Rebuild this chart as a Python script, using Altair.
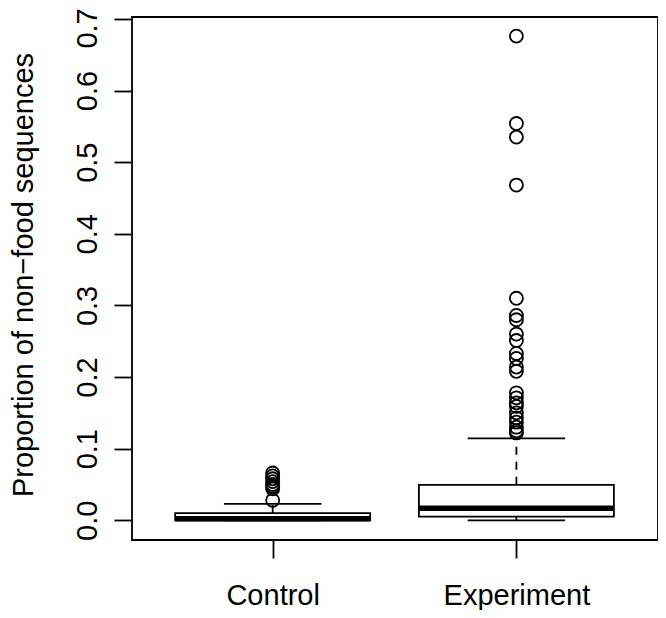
import altair as alt
import pandas as pd

groups = ["Control", "Experiment"]
positions = [1, 2]
whisker_low = [0.0, 0.0]
q1 = [0.0, 0.005]
median = [0.002, 0.017]
q3 = [0.010, 0.0495]
whisker_high = [0.023, 0.1145]

control_outliers = [0.066, 0.062, 0.058, 0.054, 0.050, 0.047, 0.044, 0.028]
experiment_outliers = [0.676, 0.554, 0.535, 0.468, 0.310, 0.286, 0.280, 0.260,
                       0.251, 0.233, 0.226, 0.214, 0.208, 0.178, 0.171, 0.164,
                       0.159, 0.150, 0.143, 0.137, 0.130, 0.125, 0.122]

y_ticks = [0.0, 0.1, 0.2, 0.3, 0.4, 0.5, 0.6, 0.7]

FONT = "Liberation Sans"
FS = 29
W, H = 526, 523

stats = pd.DataFrame({
    "group": groups, "pos": positions,
    "left": [p - 0.4 for p in positions], "right": [p + 0.4 for p in positions],
    "capl": [p - 0.2 for p in positions], "capr": [p + 0.2 for p in positions],
    "wlo": whisker_low, "q1": q1, "med": median, "q3": q3, "whi": whisker_high,
})
out = pd.DataFrame({
    "pos": [1] * len(control_outliers) + [2] * len(experiment_outliers),
    "v": control_outliers + experiment_outliers,
})

xscale = alt.Scale(domain=[0.4228, 2.581], nice=False, zero=False)
yscale = alt.Scale(domain=[-0.0275, 0.7027], nice=False, zero=False)

label_expr = " : ".join(
    [f"datum.value == {p} ? '{g}'" for p, g in zip(positions[:-1], groups[:-1])]
) + f" : '{groups[-1]}'"

xaxis = alt.Axis(values=positions, labelExpr=label_expr, title=None, grid=False,
                 domain=False, tickSize=18, tickColor="black", tickWidth=1.8,
                 labelFont=FONT, labelFontSize=FS, labelColor="black",
                 labelBaseline="alphabetic", labelPadding=46, labelFlush=False)
yaxis = alt.Axis(values=y_ticks, format=".1f", title="Proportion of non\u2212food sequences",
                 grid=False, domain=False, tickSize=18, tickColor="black", tickWidth=1.8,
                 labelFont=FONT, labelFontSize=FS, labelColor="black",
                 labelAngle=270, labelAlign="center", labelBaseline="alphabetic",
                 labelOffset={"condition": {"test": f"datum.value >= {y_ticks[-1]}", "value": 9}, "value": 0},
                 labelPadding=18, labelFlush=False, labelOverlap=False,
                 titleFont=FONT, titleFontSize=FS, titleColor="black", titleFontWeight="normal",
                 titleAngle=270, titleAlign="center", titleBaseline="alphabetic",
                 titleX=-100, titleY=H / 2 - 4)

base = alt.Chart(stats)

lw = 1.8

upper_whisker = base.mark_rule(color="black", strokeWidth=lw, strokeDash=[8, 7]).encode(
    x=alt.X("pos:Q", scale=xscale, axis=xaxis),
    y=alt.Y("q3:Q", scale=yscale, axis=yaxis),
    y2="whi:Q",
)
lower_whisker = base.mark_rule(color="black", strokeWidth=lw, strokeDash=[8, 7]).encode(
    x=alt.X("pos:Q", scale=xscale), y=alt.Y("wlo:Q", scale=yscale), y2="q1:Q",
)
cap_hi = base.mark_rule(color="black", strokeWidth=lw).encode(
    x=alt.X("capl:Q", scale=xscale), x2="capr:Q", y=alt.Y("whi:Q", scale=yscale),
)
cap_lo = base.mark_rule(color="black", strokeWidth=lw).encode(
    x=alt.X("capl:Q", scale=xscale), x2="capr:Q", y=alt.Y("wlo:Q", scale=yscale),
)
boxes = base.mark_rect(fill="white", stroke="black", strokeWidth=lw).encode(
    x=alt.X("left:Q", scale=xscale), x2="right:Q",
    y=alt.Y("q1:Q", scale=yscale), y2="q3:Q",
)
med = base.mark_rule(color="black", strokeWidth=5.5, strokeCap="butt").encode(
    x=alt.X("left:Q", scale=xscale), x2="right:Q", y=alt.Y("med:Q", scale=yscale),
)
points = alt.Chart(out).mark_point(shape="circle", filled=False, color="black",
                                   size=170, strokeWidth=1.8, opacity=1).encode(
    x=alt.X("pos:Q", scale=xscale), y=alt.Y("v:Q", scale=yscale),
)

chart = alt.layer(upper_whisker, lower_whisker, cap_hi, cap_lo, boxes, med, points).properties(
    width=W, height=H,
    autosize=alt.AutoSizeParams(type="none"),
    padding={"left": 124, "top": 9, "right": 0, "bottom": 70},
    background="white",
).configure_view(stroke="black", strokeWidth=1.8)

chart.save("out.html", embed_options={"renderer": "svg", "actions": False})
